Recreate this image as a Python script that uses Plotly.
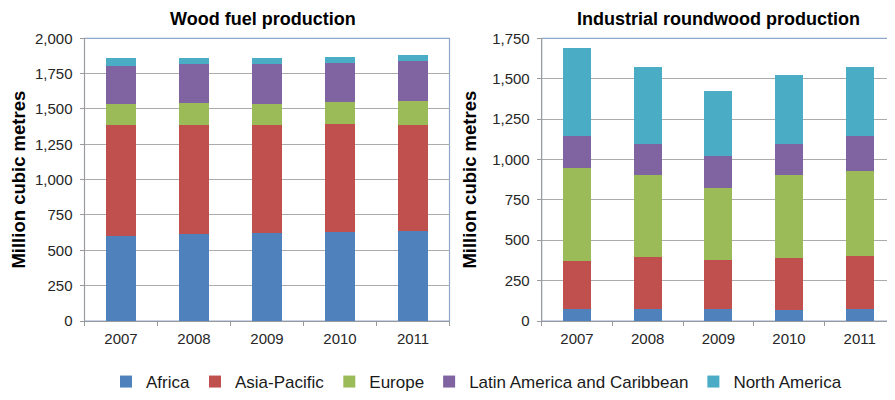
import plotly.graph_objects as go

years = ["2007", "2008", "2009", "2010", "2011"]
regions = ["Africa", "Asia-Pacific", "Europe", "Latin America and Caribbean", "North America"]
colors = ["#4F81BD", "#C0504D", "#9BBB59", "#8064A2", "#4BACC6"]

# Wood fuel production (million m3)
wood_africa = [600, 613, 620, 627, 634]
wood_asia = [785, 772, 765, 767, 751]
wood_europe = [149, 158, 149, 156, 170]
wood_latin = [273, 273, 282, 278, 282]
wood_namerica = [57, 48, 48, 40, 48]

# Industrial roundwood production (million m3)
ind_africa = [76, 76, 76, 68, 76]
ind_asia = [296, 321, 304, 320, 325]
ind_europe = [578, 506, 442, 515, 529]
ind_latin = [197, 192, 199, 192, 217]
ind_namerica = [541, 475, 403, 430, 423]

wood = [wood_africa, wood_asia, wood_europe, wood_latin, wood_namerica]
ind = [ind_africa, ind_asia, ind_europe, ind_latin, ind_namerica]

# page has an 8px body margin: figure occupies (8..895, 8..400)
OFF = 8
W, H = 895 - OFF, 400 - OFF


def px(x):
    return (x - OFF) / W


def py(y):
    return 1 - (y - OFF) / H


FONT = "Liberation Sans, Arial, sans-serif"
TICK = "#262626"
GRID = "#ABABAB"
AXIS = "#9A9A9A"
BOX = "#8FA8CA"

fig = go.Figure()
for name, col, vals in zip(regions, colors, wood):
    fig.add_trace(go.Bar(x=years, y=vals, name=name, marker=dict(color=col, line=dict(width=0)),
                         xaxis="x", yaxis="y", legendgroup=name, showlegend=True))
for name, col, vals in zip(regions, colors, ind):
    fig.add_trace(go.Bar(x=years, y=vals, name=name, marker=dict(color=col, line=dict(width=0)),
                         xaxis="x2", yaxis="y2", legendgroup=name, showlegend=False))

xd1 = [px(84.5), px(449.5)]
xd2 = [px(541.7), 1.0]
yd = [py(321), py(38.3)]

common_x = dict(type="category", showline=True, linecolor=AXIS, linewidth=1,
                ticks="outside", tickson="boundaries", ticklen=4, tickcolor=AXIS,
                tickfont=dict(family=FONT, size=15, color=TICK), showgrid=False,
                automargin=False, ticklabelstandoff=4)
common_y = dict(showline=True, linecolor=AXIS, linewidth=1, ticks="outside", ticklen=4,
                tickcolor=AXIS, showgrid=True, gridcolor=GRID, gridwidth=1,
                tickfont=dict(family=FONT, size=15, color=TICK), tickformat=",d",
                dtick=250, zeroline=False, automargin=False, ticklabelstandoff=4)


def ytitle(standoff):
    return dict(text="<b>Million cubic metres</b>", standoff=standoff,
                font=dict(family=FONT, size=18.5, color="#000000"))


fig.update_layout(
    width=W, height=H,
    margin=dict(l=0, r=0, t=0, b=0),
    paper_bgcolor="white", plot_bgcolor="white",
    barmode="stack", bargap=0.6,
    showlegend=True,
    legend=dict(orientation="h", x=px(106), y=0, xanchor="left", yanchor="bottom",
                font=dict(family=FONT, size=17, color="#1a1a1a"), itemwidth=30,
                traceorder="normal", bgcolor="rgba(0,0,0,0)"),
    xaxis=dict(domain=xd1, anchor="y", **common_x),
    yaxis=dict(domain=yd, anchor="x", range=[0, 2000], title=ytitle(5), **common_y),
    xaxis2=dict(domain=xd2, anchor="y2", **common_x),
    yaxis2=dict(domain=yd, anchor="x2", range=[0, 1750], title=ytitle(10), **common_y),
    font=dict(family=FONT),
)

# plot frame (top/right border)
for xr, yr in (("x domain", "y domain"), ("x2 domain", "y2 domain")):
    fig.add_shape(type="rect", xref=xr, yref=yr, x0=0, x1=1, y0=0, y1=1,
                  line=dict(color=BOX, width=1.2), layer="below")

fig.add_annotation(text="<b>Wood fuel production</b>", xref="paper", yref="paper",
                   x=px(263), y=py(19), xanchor="center", yanchor="middle", showarrow=False,
                   font=dict(family=FONT, size=18, color="#000000"))
fig.add_annotation(text="<b>Industrial roundwood production</b>", xref="paper", yref="paper",
                   x=px(718), y=py(19), xanchor="center", yanchor="middle", showarrow=False,
                   font=dict(family=FONT, size=18, color="#000000"))

fig.write_html("out.html")
